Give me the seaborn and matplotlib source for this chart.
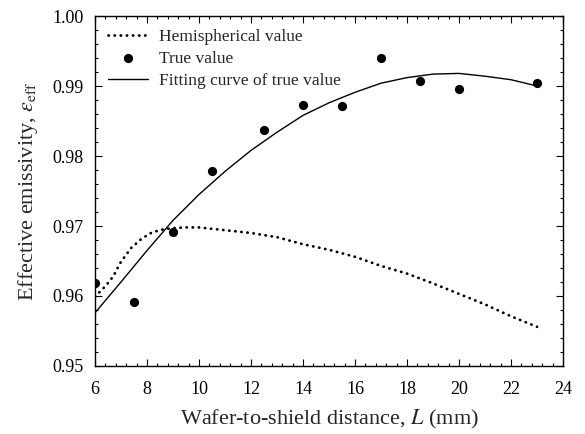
"""
Effective emissivity vs wafer-to-shield distance.
"""

import numpy as np
import pandas as pd
import matplotlib.pyplot as plt
import seaborn as sns
from matplotlib.ticker import MultipleLocator, AutoMinorLocator

# ── data ───────────────────────────────────────
hemi_x = [6, 6.4, 6.7, 7, 7.4, 7.8, 8.2, 8.6, 9, 9.5, 10, 10.5, 11, 12, 13,
          14, 15, 16, 17, 18, 19, 20, 21, 22, 23]
hemi_y = [0.9599, 0.9614, 0.9628, 0.9649, 0.9669, 0.9682, 0.9691, 0.9695,
          0.9697, 0.9698, 0.9698, 0.9696, 0.9694, 0.9690, 0.9684, 0.9674,
          0.9666, 0.9656, 0.9643, 0.9632, 0.9618, 0.9603, 0.9588, 0.9571,
          0.9556]

true_x = [6, 7.5, 9, 10.5, 12.5, 14, 15.5, 17, 18.5, 20, 23]
true_y = [0.9619, 0.9591, 0.9691, 0.9779, 0.9837, 0.9873, 0.9871, 0.9940,
          0.9907, 0.9896, 0.9905]

fit_x = [6, 7, 8, 9, 10, 11, 12, 13, 14, 15, 16, 17, 18, 19, 20, 21, 22, 23]
fit_y = [0.9576, 0.9620, 0.9665, 0.9708, 0.9745, 0.9778, 0.9808, 0.9834,
         0.9858, 0.9876, 0.9891, 0.9904, 0.9912, 0.9917, 0.9918, 0.9914,
         0.9909, 0.9900]

hemi_df = pd.DataFrame({"L": hemi_x, "eps": hemi_y})
true_df = pd.DataFrame({"L": true_x, "eps": true_y})
fit_df  = pd.DataFrame({"L": fit_x, "eps": fit_y})

sns.set_theme(style="ticks")
plt.rcParams["font.family"] = ["Liberation Serif", "DejaVu Serif"]
plt.rcParams["mathtext.fontset"] = "stix"

fig = plt.figure(figsize=(5.85, 4.34), dpi=100)
ax = fig.add_axes([0.1624, 0.1567, 0.8, 0.8064])

sns.lineplot(data=hemi_df, x="L", y="eps", ax=ax, color="black", lw=2.0,
             linestyle=(0, (0.1, 2.1)), dash_capstyle="round",
             label="Hemispherical value")
sns.scatterplot(data=true_df, x="L", y="eps", ax=ax, color="black", s=44,
                edgecolor="black", linewidth=0, label="True value", zorder=3)
sns.lineplot(data=fit_df, x="L", y="eps", ax=ax, color="black", lw=1.0,
             label="Fitting curve of true value")

ax.set_xlim(6, 24)
ax.set_ylim(0.95, 1.00)
ax.xaxis.set_major_locator(MultipleLocator(2))
ax.xaxis.set_minor_locator(AutoMinorLocator(5))
ax.yaxis.set_major_locator(MultipleLocator(0.01))
ax.yaxis.set_minor_locator(AutoMinorLocator(5))
ax.yaxis.set_major_formatter(plt.FormatStrFormatter("%.2f"))

ax.tick_params(which="both", direction="in", top=True, right=True,
               labelsize=13, colors="black", width=0.8)
ax.tick_params(axis="x", which="both", pad=11)
ax.tick_params(axis="y", which="both", pad=8)
ax.tick_params(which="major", length=5)
ax.tick_params(which="minor", length=2.5)
for s in ax.spines.values():
    s.set_linewidth(1.0)
    s.set_color("black")

ax.set_xlabel("Wafer-to-shield distance, $\\it{L}$ (mm)", fontsize=16, labelpad=7)
ax.set_ylabel("Effective emissivity, $\\varepsilon_{\\rm eff}$", fontsize=16, labelpad=9)

ax.legend(loc="upper left", frameon=False, fontsize=12.5, handlelength=2.3,
          borderaxespad=0.35, labelspacing=0.32, handletextpad=0.65)

fig.savefig("out.png", dpi=100)
plt.close(fig)
